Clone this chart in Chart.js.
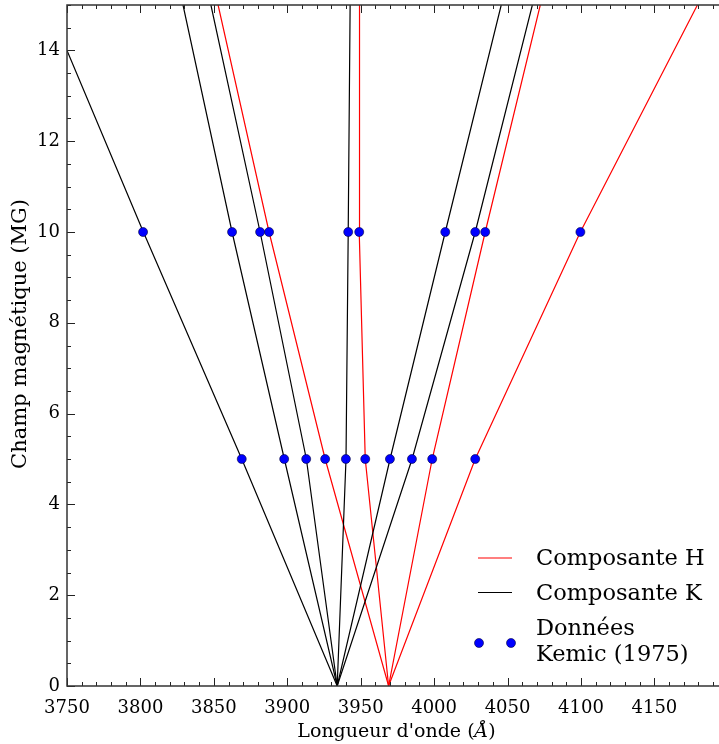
<!DOCTYPE html>
<html>
<head>
<meta charset="utf-8">
<script src="https://cdn.jsdelivr.net/npm/chart.js@4.4.1/dist/chart.umd.min.js"></script>
<style>
  html, body { margin: 0; padding: 0; background: #fff; }
  #wrap { width: 719px; height: 744px; position: relative; }
</style>
</head>
<body>
<div id="wrap"><canvas id="c" width="719" height="744"></canvas></div>
<script>
// ---- data ----
const fieldLevels = [0, 5, 10, 15];        // MG
const kLine1Levels = [0, 5, 10, 14];       // leaves the frame at 3750 Å
const kLine1 = [3934, 3869, 3802, 3750];
const kLine2 = [3934, 3898, 3862.4, 3829];
const kLine3 = [3934, 3913, 3881.5, 3848];
const kLine4 = [3934, 3940, 3941.5, 3942.8];
const kLine5 = [3934, 3970, 4007.6, 4045.7];
const kLine6 = [3934, 3985, 4028, 4066.9];
const hLine1 = [3969, 3925.8, 3887.6, 3852.9];
const hLine2 = [3969, 3953.1, 3949.0, 3949.2];
const hLine3 = [3969, 3998.7, 4034.8, 4072.3];
const hLine4 = [3969, 4028, 4099.6, 4179.3];

const kemicLambda5  = [3869.0, 3897.9, 3912.9, 3925.8, 3939.9, 3953.1, 3969.9, 3984.9, 3998.7, 4028.0];
const kemicLambda10 = [3801.8, 3862.4, 3881.5, 3887.6, 3941.5, 3949.0, 4007.6, 4028.0, 4034.8, 4099.6];
const kemicFields = [5, 10];

const xTickValues = [3750, 3800, 3850, 3900, 3950, 4000, 4050, 4100, 4150];
const yTickValues = [0, 2, 4, 6, 8, 10, 12, 14];
const xRange = [3750, 4194];
const yRange = [0, 15];

const labelH = 'Composante H';
const labelK = 'Composante K';
const labelData = ['Données', 'Kemic (1975)'];
const xTitleParts = ["Longueur d'onde (", 'Å', ')'];
const yTitle = 'Champ magnétique (MG)';

// ---- build datasets ----
function linePts(lams, levels) { return lams.map((l, i) => ({ x: l, y: levels[i] })); }
function lineDs(lams, levels, color) {
  return { type: 'scatter', data: linePts(lams, levels), showLine: true, borderColor: color,
           borderWidth: 1.2, pointRadius: 0, pointHoverRadius: 0, fill: false, tension: 0, order: 2 };
}
const datasets = [
  lineDs(kLine1, kLine1Levels, '#000000'),
  lineDs(kLine2, fieldLevels, '#000000'),
  lineDs(kLine3, fieldLevels, '#000000'),
  lineDs(kLine4, fieldLevels, '#000000'),
  lineDs(kLine5, fieldLevels, '#000000'),
  lineDs(kLine6, fieldLevels, '#000000'),
  lineDs(hLine1, fieldLevels, '#ff0000'),
  lineDs(hLine2, fieldLevels, '#ff0000'),
  lineDs(hLine3, fieldLevels, '#ff0000'),
  lineDs(hLine4, fieldLevels, '#ff0000'),
  { type: 'scatter',
    data: kemicLambda5.map(l => ({ x: l, y: kemicFields[0] })).concat(kemicLambda10.map(l => ({ x: l, y: kemicFields[1] }))),
    showLine: false, pointRadius: 4.5, pointBackgroundColor: '#0000ff', pointBorderColor: '#00003a',
    pointBorderWidth: 0.6, order: 1 }
];

const FONT = 'DejaVu Serif';

function noPad(s) { s.paddingTop = 0; s.paddingBottom = 0; s.paddingLeft = 0; s.paddingRight = 0; }

const decor = {
  id: 'decor',
  afterDatasetsDraw(chart) {
    const ctx = chart.ctx, a = chart.chartArea;
    const xs = chart.scales.x, ys = chart.scales.y;
    ctx.save();
    ctx.strokeStyle = '#222';
    ctx.lineWidth = 1;
    ctx.beginPath();
    for (let v = xRange[0]; v <= xRange[1]; v += 10) {
      const px = Math.round(xs.getPixelForValue(v)) + 0.5;
      const len = (v % 50 === 0) ? 8 : 4;
      ctx.moveTo(px, a.bottom); ctx.lineTo(px, a.bottom - len);
      ctx.moveTo(px, a.top); ctx.lineTo(px, a.top + len);
    }
    for (let v = yRange[0]; v <= yRange[1] + 1e-9; v += 0.5) {
      const py = Math.round(ys.getPixelForValue(v)) + 0.5;
      const len = (Math.abs(v % 2) < 1e-9) ? 8 : 4;
      ctx.moveTo(a.left, py); ctx.lineTo(a.left + len, py);
    }
    ctx.stroke();
    ctx.lineWidth = 1.5;
    ctx.strokeStyle = '#333';
    ctx.beginPath();
    ctx.moveTo(a.right + 2, a.top); ctx.lineTo(a.left, a.top);
    ctx.lineTo(a.left, a.bottom); ctx.lineTo(a.right + 2, a.bottom);
    ctx.stroke();
    ctx.restore();
  },
  afterDraw(chart) {
    const ctx = chart.ctx;
    ctx.save();
    // legend
    ctx.font = '22.5px "' + FONT + '"';
    ctx.fillStyle = '#000';
    ctx.textBaseline = 'alphabetic';
    ctx.textAlign = 'left';
    ctx.lineWidth = 1.2;
    ctx.strokeStyle = '#ff0000';
    ctx.beginPath(); ctx.moveTo(478, 558); ctx.lineTo(512, 558); ctx.stroke();
    ctx.fillText(labelH, 536, 565);
    ctx.strokeStyle = '#000';
    ctx.beginPath(); ctx.moveTo(478, 592.5); ctx.lineTo(512, 592.5); ctx.stroke();
    ctx.fillText(labelK, 536, 600);
    ctx.fillStyle = '#0000ff';
    ctx.strokeStyle = '#00003a';
    ctx.lineWidth = 0.6;
    [479, 511].forEach(x => { ctx.beginPath(); ctx.arc(x, 643, 4.5, 0, Math.PI * 2); ctx.fill(); ctx.stroke(); });
    ctx.fillStyle = '#000';
    ctx.fillText(labelData[0], 536, 635);
    ctx.fillText(labelData[1], 536, 661);

    // x title with italic Å
    const fN = '19px "' + FONT + '"', fI = 'italic 19px "' + FONT + '"';
    ctx.font = fN; const w0 = ctx.measureText(xTitleParts[0]).width;
    ctx.font = fI; const w1 = ctx.measureText(xTitleParts[1]).width;
    ctx.font = fN; const w2 = ctx.measureText(xTitleParts[2]).width;
    let x = 396.5 - (w0 + w1 + w2) / 2;
    const by = 737;
    ctx.font = fN; ctx.fillText(xTitleParts[0], x, by); x += w0;
    ctx.font = fI; ctx.fillText(xTitleParts[1], x, by); x += w1;
    ctx.font = fN; ctx.fillText(xTitleParts[2], x, by);

    // y title
    ctx.translate(26, 334);
    ctx.rotate(-Math.PI / 2);
    ctx.font = '21px "' + FONT + '"';
    ctx.textAlign = 'center';
    ctx.fillText(yTitle, 0, 0);
    ctx.restore();
  }
};

new Chart(document.getElementById('c'), {
  type: 'scatter',
  data: { datasets },
  options: {
    responsive: false,
    animation: false,
    devicePixelRatio: 1,
    layout: { autoPadding: false, padding: { top: 5, right: 0, left: 0, bottom: 0 } },
    plugins: { legend: { display: false }, tooltip: { enabled: false } },
    scales: {
      x: {
        type: 'linear', position: 'bottom', min: xRange[0], max: xRange[1],
        afterBuildTicks: s => { s.ticks = xTickValues.map(v => ({ value: v })); },
        afterFit: s => { s.height = 58; noPad(s); },
        grid: { display: false, drawTicks: false },
        border: { display: false },
        ticks: { color: '#000', font: { family: FONT, size: 18 }, padding: 12, maxRotation: 0, autoSkip: false,
                 callback: v => String(v) },
        title: { display: false }
      },
      y: {
        type: 'linear', position: 'left', min: yRange[0], max: yRange[1],
        afterBuildTicks: s => { s.ticks = yTickValues.map(v => ({ value: v })); },
        afterFit: s => { s.width = 67; noPad(s); },
        grid: { display: false, drawTicks: false },
        border: { display: false },
        ticks: { color: '#000', font: { family: FONT, size: 18 }, padding: 7, autoSkip: false,
                 callback: v => String(v) },
        title: { display: false }
      }
    }
  },
  plugins: [decor]
});
</script>
</body>
</html>
